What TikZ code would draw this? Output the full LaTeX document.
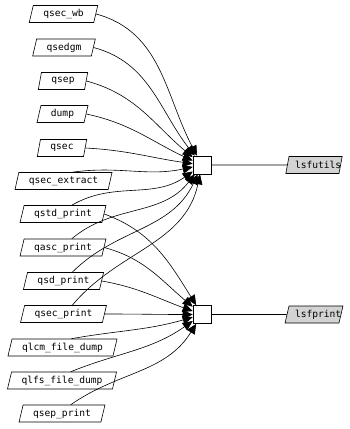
\documentclass[tikz,border=0pt]{standalone}
\usepackage{fontspec}
\setmonofont{DejaVu Sans Mono}
\usetikzlibrary{shapes.geometric,arrows.meta}
\definecolor{boxgray}{RGB}{211,211,211}
\tikzset{
  pg/.style={draw, line width=0.6pt, shape=trapezium, trapezium left angle=67, trapezium right angle=113,
    trapezium stretches=true, inner xsep=10pt, inner ysep=0pt, minimum height=17pt,
    font=\ttfamily\fontsize{9.6}{11}\selectfont, fill=white},
  lib/.style={pg, fill=boxgray, inner xsep=6pt},
  junc/.style={draw, line width=0.6pt, fill=white, minimum size=18pt, inner sep=0pt},
  arr/.style={line width=0.6pt, -{Triangle[length=10pt,width=9pt]}},
  ln/.style={line width=0.6pt}
}
\begin{document}
\begin{tikzpicture}[x=1pt,y=-1pt]
\useasboundingbox (0,0) rectangle (349,429);
\node[pg] (qsec_wb) at (63.5,14) {qsec\_wb};
\node[pg] (qsedgm) at (64,47.5) {qsedgm};
\node[pg] (qsep) at (63,81) {qsep};
\node[pg] (dump) at (62.5,114) {dump};
\node[pg] (qsec) at (62,148) {qsec};
\node[pg] (qsec_extract) at (63.5,181) {qsec\_extract};
\node[pg] (qstd_print) at (63,214) {qstd\_print};
\node[pg] (qasc_print) at (63,247.5) {qasc\_print};
\node[pg] (qsd_print) at (63.5,281) {qsd\_print};
\node[pg] (qsec_print) at (63.5,314) {qsec\_print};
\node[pg] (qlcm_file_dump) at (62.5,347.5) {qlcm\_file\_dump};
\node[pg] (qlfs_file_dump) at (62,380.5) {qlfs\_file\_dump};
\node[pg] (qsep_print) at (62,413.5) {qsep\_print};

\node[junc] (j1) at (202,165) {};
\node[junc] (j2) at (202,314.5) {};

\node[lib] (lsfutils) at (314,165) {\makebox[38pt][l]{lsfutils}};
\node[lib] (lsfprint) at (314,314.5) {\makebox[38pt][l]{lsfprint}};

\draw[ln] (j1.east) -- (lsfutils.west);
\draw[ln] (j2.east) -- (lsfprint.west);

% edges to j1
\draw[arr] (qsec_wb.east) to[out=-15, in=118] (j1);
\draw[arr] (qsedgm.east) to[out=-15, in=128] (j1);
\draw[arr] (qsep.east) to[out=-15, in=140] (j1);
\draw[arr] (dump.east) to[out=-12, in=155] (j1);
\draw[arr] (qsec.east) to[out=-3, in=172] (j1);
\draw[arr] (qsec_extract.north east) to[out=8, in=192] (j1);
\draw[arr] (qstd_print.north east) to[out=30, in=215] (j1);
\draw[arr] (qasc_print.north east) to[out=40, in=232] (j1);
\draw[arr] (qsd_print.north east) to[out=45, in=245] (j1);
\draw[arr] (qsec_print.north east) to[out=50, in=258] (j1);

% edges to j2
\draw[arr] (qstd_print.east) to[out=-20, in=122] (j2);
\draw[arr] (qasc_print.east) to[out=-15, in=140] (j2);
\draw[arr] (qsd_print.east) to[out=-10, in=160] (j2);
\draw[arr] (qsec_print.east) to[out=0, in=180] (j2);
\draw[arr] (qlcm_file_dump.north east) to[out=10, in=196] (j2);
\draw[arr] (qlfs_file_dump.north east) to[out=22, in=215] (j2);
\draw[arr] (qsep_print.north east) to[out=35, in=238] (j2);
\end{tikzpicture}
\end{document}
